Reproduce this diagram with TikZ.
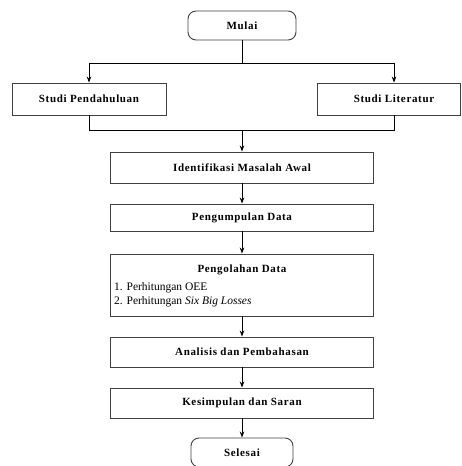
\documentclass[tikz,border=0pt]{standalone}
\usepackage{fontspec}
\setmainfont{Liberation Serif}
\newfontfamily\boxfont[LetterSpace=6]{Liberation Serif}
\usetikzlibrary{arrows.meta}
\begin{document}
\begin{tikzpicture}[x=1pt,y=-1pt,
  box/.style={draw=black!75,line width=0.9pt,minimum width=263pt,inner sep=0pt,font=\boxfont\bfseries\fontsize{11}{13}\selectfont},
  term/.style={box,rounded corners=8pt},
  arr/.style={-{Stealth[length=6pt,width=4.5pt]},line width=0.8pt},
  ln/.style={line width=0.8pt},
  item/.style={font=\fontsize{11.5}{13}\selectfont,anchor=base west,inner sep=0pt}]
\useasboundingbox (0,0) rectangle (461,466);
\begin{scope}
\clip (0,0) rectangle (461,466);
\node[term,minimum width=108pt,minimum height=29pt] (mulai) at (242,25.5) {Mulai};
\node[box,minimum width=154pt,minimum height=32pt] (sp) at (89,99) {Studi Pendahuluan};
\node[box,minimum width=143pt,minimum height=32pt] (sl) at (389,99) {\hspace*{10pt}Studi Literatur};
\node[box,minimum height=31pt] (ima) at (242,167.5) {Identifikasi Masalah Awal};
\node[box,minimum height=27pt] (pd) at (242,217.5) {Pengumpulan Data};
\node[box,minimum height=62pt] (old) at (242,285) {};
\node[font=\boxfont\bfseries\fontsize{11}{13}\selectfont,anchor=base,inner sep=0pt] (oldt) at (242,272) {Pengolahan Data};
\node[item] (l1) at (114,290) {1. Perhitungan OEE};
\node[item] (l2) at (114,304) {2. Perhitungan \textit{Six Big Losses}};
\node[box,minimum height=30pt] (ap) at (242,352) {Analisis dan Pembahasan};
\node[box,minimum height=30pt] (ks) at (242,403) {Kesimpulan dan Saran};
\node[term,minimum width=102pt,minimum height=29pt] (sel) at (242,452.5) {Selesai};
\coordinate (j1) at (242,63);
\coordinate (sltop) at ([xshift=5pt]sl.north);
\coordinate (slbot) at ([xshift=5pt]sl.south);
\coordinate (j2) at (242,130);
\draw[ln] (mulai.south) -- (j1);
\draw[arr] (j1) -| (sp.north);
\draw[arr] (j1) -| (sltop);
\draw[ln] (sp.south) |- (j2);
\draw[ln] (slbot) |- (j2);
\draw[arr] (j2) -- (ima.north);
\draw[arr] (ima.south) -- (pd.north);
\draw[arr] (pd.south) -- (old.north);
\draw[arr] (old.south) -- (ap.north);
\draw[arr] (ap.south) -- (ks.north);
\draw[arr] (ks.south) -- (sel.north);
\end{scope}
\end{tikzpicture}
\end{document}
